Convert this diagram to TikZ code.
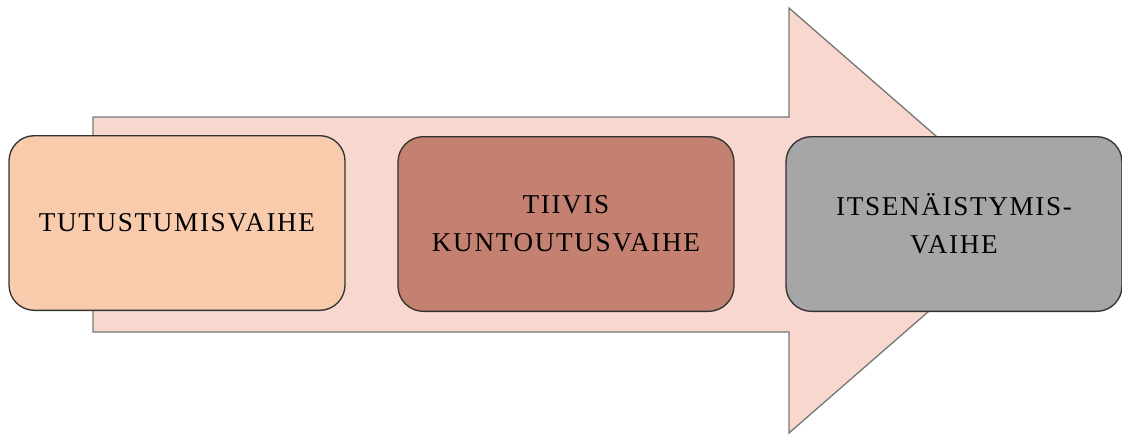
\documentclass[tikz,border=0pt]{standalone}
\usepackage{fontspec}
\setmainfont{Liberation Serif}
\newfontfamily\phasefont[LetterSpace=6]{Liberation Serif}
\definecolor{arrowfill}{RGB}{248,216,206}
\definecolor{arrowline}{RGB}{120,120,120}
\definecolor{phaseA}{RGB}{248,203,173}
\definecolor{phaseB}{RGB}{196,128,112}
\definecolor{phaseC}{RGB}{166,166,166}
\definecolor{boxline}{RGB}{50,50,50}
\tikzset{
  phase/.style={draw=boxline, line width=1pt, rounded corners=19pt,
    minimum width=252pt, minimum height=131pt, align=center,
    font=\phasefont\fontsize{20.4}{28.5}\selectfont, text=black, inner sep=0pt}
}
\begin{document}
\begin{tikzpicture}[x=0.75pt, y=-0.75pt]
\useasboundingbox (0,0) rectangle (1122,437);
% big block arrow behind the phases
\draw[fill=arrowfill, draw=arrowline, line width=1pt]
  (93,117) -- (789,117) -- (789,8) -- (1033,220.5) -- (789,433) -- (789,332) -- (93,332) -- cycle;
% the three phases
\node[phase, fill=phaseA] (p1) at (177,223) {TUTUSTUMISVAIHE};
\node[phase, fill=phaseB] (p2) at (566,224) {TIIVIS\\KUNTOUTUSVAIHE};
\node[phase, fill=phaseC] (p3) at (954,224) {ITSENÄISTYMIS-\\VAIHE};
\end{tikzpicture}
\end{document}
